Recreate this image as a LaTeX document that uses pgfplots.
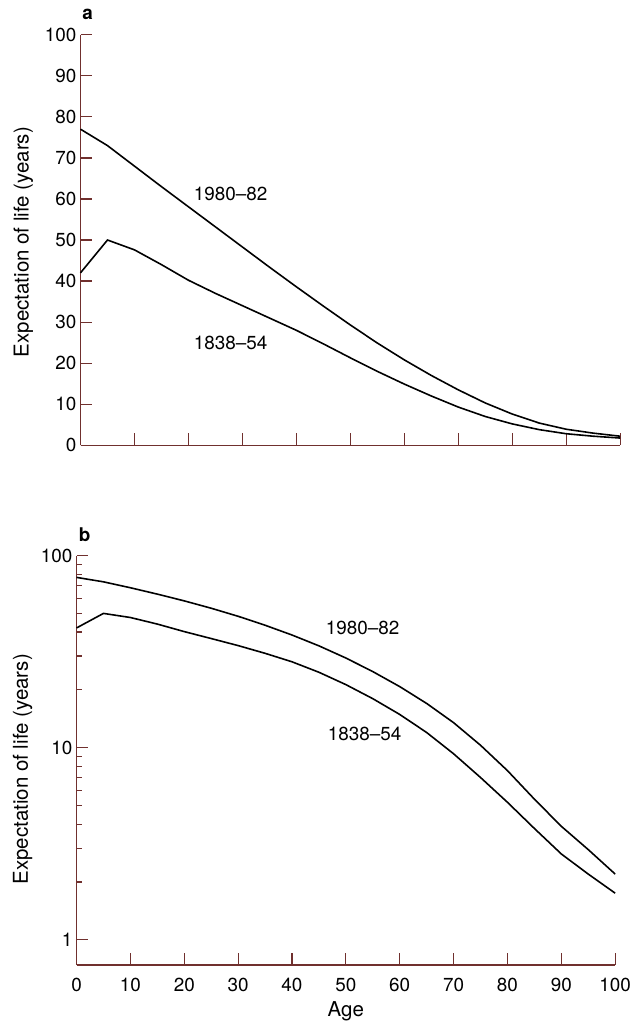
\documentclass[border=0pt]{standalone}
\usepackage{fontspec}
\setmainfont{TeX Gyre Heros}
\usepackage{pgfplots}
\pgfplotsset{compat=1.18}
\usepackage{pgfplotstable}

\definecolor{axisbrown}{RGB}{112,48,46}

% age, 1838-54, 1980-82
\pgfplotstableread{
age  old   new
0    42.0  77.0
5    50.0  73.0
10   47.6  68.0
15   44.0  63.0
20   40.2  58.1
25   37.0  53.2
30   34.0  48.3
35   31.0  43.4
40   28.0  38.6
45   24.7  33.9
50   21.3  29.3
55   18.0  24.9
60   14.9  20.8
65   12.0  17.0
70   9.3   13.5
75   7.0   10.3
80   5.2   7.6
85   3.8   5.4
90   2.8   3.9
95   2.2   2.95
100  1.75  2.2
}\lifetab

\pgfplotsset{
  lifeaxis/.style={
    scale only axis,
    axis x line=bottom, axis y line=left,
    axis line style={axisbrown, line width=0.7pt, -},
    tick style={axisbrown, line width=0.6pt},
    xtick align=inside, ytick align=inside,
    major tick length=6pt, minor tick length=3pt,
    xmin=0, xmax=100,
    /pgf/number format/assume math mode=true,
    tick label style={font=\fontsize{9.5}{11}\selectfont},
    label style={font=\fontsize{10.3}{12}\selectfont},
    yticklabel shift=-1.5pt,
    ylabel={Expectation of life (years)},
    clip=false,
  },
  lifeline/.style={black, line width=0.8pt, no marks},
}

\begin{document}
\begin{tikzpicture}
\path (-40.5pt,224pt) rectangle (282.5pt,-290pt);

% panel a
\begin{axis}[lifeaxis,
  at={(0pt,0pt)},
  width=271.5pt, height=206.5pt,
  ymin=0, ymax=100,
  ytick={0,10,...,100},
  xtick={10,20,...,100},
  xticklabels={},
  ylabel style={at={(axis description cs:-0.106,0.495)}, anchor=center},
]
\addplot[lifeline] table[x=age, y=new] {\lifetab};
\addplot[lifeline] table[x=age, y=old] {\lifetab};
\node[font=\fontsize{9.5}{11}\selectfont] at (axis cs:27.8,61.3) {1980--82};
\node[font=\fontsize{9.5}{11}\selectfont] at (axis cs:27.8,24.9) {1838--54};
\node[font=\bfseries\fontsize{9.5}{11}\selectfont] at (rel axis cs:0.013,1.05) {a};
\end{axis}

% panel b
\begin{axis}[lifeaxis,
  at={(-2pt,-261.5pt)},
  width=271pt, height=206pt,
  ymode=log,
  ymin=0.74, ymax=100,
  ytick={1,10,100},
  yticklabels={1,10,100},
  minor ytick={2,3,4,5,6,7,8,9,20,30,40,50,60,70,80,90},
  xtick={0,10,...,100},
  xticklabel shift=3pt,
  xlabel={Age},
  xlabel style={at={(axis description cs:0.5,-0.114)}, anchor=center},
  ylabel style={at={(axis description cs:-0.1,0.478)}, anchor=center},
]
\addplot[lifeline] table[x=age, y=new] {\lifetab};
\addplot[lifeline] table[x=age, y=old] {\lifetab};
\node[font=\fontsize{9.5}{11}\selectfont] at (axis cs:53.1,41.9) {1980--82};
\node[font=\fontsize{9.5}{11}\selectfont] at (axis cs:53.5,11.8) {1838--54};
\node[font=\bfseries\fontsize{9.5}{11}\selectfont] at (rel axis cs:0.015,1.05) {b};
\end{axis}
\end{tikzpicture}
\end{document}
